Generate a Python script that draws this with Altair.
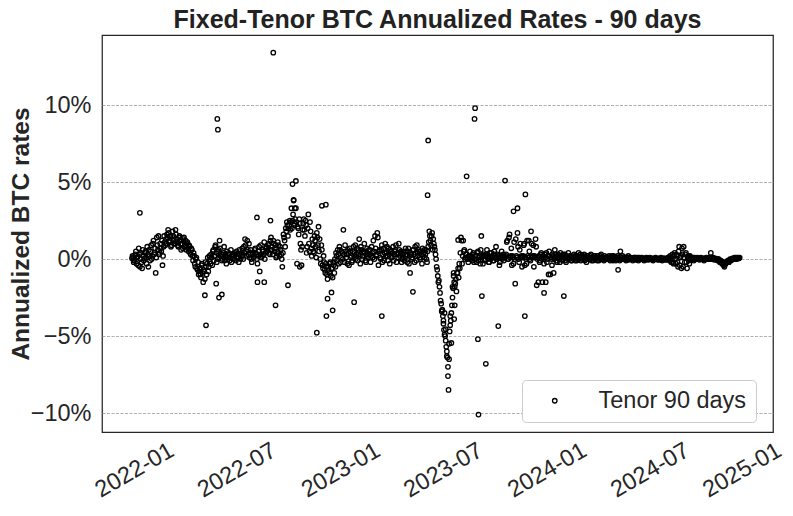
import altair as alt
import pandas as pd

SERIES = "Tenor 90 days"
START = "2021-12-28"  # first observation; each block below covers 60 days

# observations (annualized rate, %) on even days of each 60-day block
b0 = [0.05, 0.1, -0.1, 0.3, -0.3, 0.15, 0.7, -0.5, 0.4, -0.6, 0.2, 0.05, 0.5, -0.3, 0.3,
      0.6, -0.1, 0.9, 0.2, 1.2, 0.4, -0.9, 1.4, 0.6, 0.3, 1.0, 0.5, -0.4, 0.8, 1.1]
b1 = [1.3, 1.6, 1.9, 1.1, 1.5, 0.9, 1.8, 1.2, 1.0, 1.6, 1.3, 0.8, 1.5, 1.0, 1.2,
      0.7, 1.4, 0.9, 0.6, 1.1, 0.5, 0.8, 0.3, 0.6, -0.1, 0.2, -0.5, 0.1, -0.7, -1.0]
b2 = [-0.6, -1.2, -0.3, -1.5, -0.8, -0.2, -1.0, 0.1, -0.5, 0.0, 0.3, -0.4, 0.6, 0.2, 0.9,
      -0.2, 0.5, 0.1, 0.7, 0.3, 0.0, 0.4, -0.1, 0.2, 0.5, 0.0, 0.3, 0.1, -0.2, 0.2]
b3 = [0.2, 0.4, -0.1, 0.3, 0.1, 0.6, 0.0, 0.4, 0.2, 0.8, 1.3, 0.5, 1.2, 0.3, 0.1,
      0.6, -0.2, 0.4, 0.2, 0.7, 0.3, -0.3, 0.5, -0.8, 0.9, 0.2, 0.5, 1.1, 0.4, 0.8]
b4 = [0.6, 1.0, 0.3, 1.4, 0.8, 1.2, 0.5, 0.9, 0.2, 1.1, 0.4, 0.8, 0.3, -0.5, 1.6,
      1.2, 2.0, 2.4, 1.5, 2.2, 1.9, 3.3, 2.5, 3.8, 2.3, 3.3, -0.3, 2.0, 2.6, 1.0]
b5 = [-0.4, 1.9, 2.6, 1.5, 2.2, 0.8, 2.9, 0.5, 1.8, 0.2, 0.9, 0.4, 1.2, 0.1, 1.4,
      2.1, 1.3, -0.3, 0.6, -0.6, -0.2, -0.9, -0.5, -1.3, -0.7, -0.3, -1.1, -0.6, -0.2, -0.9]
b6 = [-0.5, 0.2, 0.6, -0.3, 0.6, 0.1, 0.4, 1.9, -0.2, 0.5, 0.3, 0.6, -0.4, 0.5, 0.2,
      -0.1, 0.8, 0.4, 0.0, 0.7, 0.3, 1.3, -0.3, 0.6, 0.2, 0.5, 0.4, -0.2, 0.7, 0.1]
b7 = [0.3, -0.2, 0.8, 0.1, 0.5, 1.5, 0.2, 1.7, -0.4, 0.6, 0.0, 0.9, 0.3, -0.1, 1.0,
      0.4, 0.2, 0.7, -0.3, 0.5, 0.1, 0.8, 0.3, 0.6, -0.2, 0.4, 1.0, 0.2, 0.5, 0.0]
b8 = [0.4, -0.1, 0.7, 0.2, 0.5, -0.3, -0.9, 0.3, 0.1, 0.6, -0.2, 0.4, 0.9, 0.2, 0.5,
      0.0, 0.3, 0.7, 0.4, 0.1, 0.6, -0.2, 0.8, 1.8, 1.2, 1.5, 0.6, 1.0, 0.6, 0.0]
b9 = [-0.7, -1.5, -1.8, -2.7, -3.4, -3.7, -4.6, -5.0, -5.7, -6.4, -8.5, -4.7, -4.0, -3.0, -1.9,
      -1.5, -1.6, -2.1, -0.9, -1.2, -0.6, 1.4, -0.3, 1.2, 0.6, 0.1, 0.3, 0.0, 0.2, 0.5]
b10 = [0.2, -0.1, 0.4, 0.0, 0.2, -0.2, 0.5, 0.1, -0.3, 1.5, 0.2, 0.3, -0.1, 0.2, 0.6,
       0.0, -0.2, 0.1, 0.4, 0.1, -0.1, 0.3, 0.8, 0.0, 0.2, -0.4, 0.1, 0.5, 0.1, -0.1]
b11 = [0.1, 0.3, 1.2, 0.0, 1.6, 0.2, -0.4, 0.1, 1.1, -1.6, 0.2, 1.7, 0.0, 0.6, 0.1,
       -0.5, 0.2, 1.0, 0.1, -0.3, 0.2, 1.2, 0.0, 1.8, 0.1, 0.9, 0.2, 1.3, -1.7, 0.1]
b12 = [0.2, -0.1, 0.4, -1.5, 0.1, 0.3, -1.5, -0.2, 0.2, 0.5, -1.0, 0.0, 0.3, -0.9, 0.6,
       0.1, -0.2, 0.3, 0.0, 0.4, 0.1, -0.1, 0.2, 0.3, -0.2, 0.1, 0.4, 0.0, 0.2, -0.1]
b13 = [0.1, 0.3, -0.1, 0.2, 0.0, 0.4, 0.1, -0.1, 0.2, 0.1, 0.3, 0.0, -0.2, 0.2, 0.1,
       0.0, 0.3, 0.1, -0.1, 0.2, 0.0, 0.1, 0.2, -0.1, 0.1, 0.3, 0.0, 0.1, 0.2, 0.0]
b14 = [0.1, 0.0, 0.2, -0.1, 0.1, 0.0, 0.2, 0.1, -0.1, 0.1, -0.7, 0.0, 0.5, 0.1, 0.2,
       0.0, 0.1, -0.1, 0.1, 0.2, 0.0, 0.1, 0.0, -0.1, 0.1, 0.0, 0.1, 0.0, -0.1, 0.1]
b15 = [0.0, 0.1, 0.0, -0.1, 0.05, 0.1, 0.0, -0.05, 0.1, 0.0, 0.05, -0.1, 0.0, 0.1, 0.0,
       -0.05, 0.05, 0.0, 0.1, -0.1, 0.0, 0.05, 0.0, -0.05, 0.1, 0.0, 0.2, -0.2, 0.3, -0.3]
b16 = [0.4, -0.3, 0.2, -0.5, 0.8, 0.1, -0.6, 0.3, 0.8, -0.2, 0.4, -0.6, 0.2, -0.3, 0.1,
       0.0, 0.1, -0.1, 0.05, 0.0, 0.1, 0.0, -0.05, 0.1, 0.0, 0.05, -0.1, 0.0, 0.1, 0.0]
b17 = [0.0, 0.1, 0.4, 0.0, 0.1, -0.05, 0.05, 0.0, -0.1, 0.0, -0.2, -0.1, -0.3, -0.2,
       -0.5, -0.3, -0.2, -0.1, -0.2, 0.0, -0.1, 0.05, 0.0, 0.1, 0.05, 0.0, 0.1, 0.05]

# observations on odd days of each 60-day block
c0 = [0.2, -0.2, 0.0, 0.5, 0.1, -0.4, 0.3, 0.0, -0.2, 0.6, -0.1, 0.4, 0.1, 0.8, -0.5,
      0.2, 0.5, 0.0, 1.0, 0.3, 0.7, 0.1, 0.9, 1.5, 0.4, 0.7, 1.2, 0.2, 1.5, 0.9]
c1 = [1.0, 1.4, 1.7, 1.2, 0.8, 1.3, 1.5, 1.0, 1.9, 1.1, 0.9, 1.4, 1.2, 0.6, 1.0,
      1.3, 0.8, 1.2, 1.0, 0.7, 0.9, 0.4, 0.7, 0.2, 0.4, -0.3, 0.0, -0.6, -0.2, -0.8]
c2 = [-1.0, -0.4, -0.9, -0.7, -1.3, -0.5, -0.3, -0.8, 0.2, -0.3, 0.1, 0.5, -0.1, 0.8, 0.4,
      0.0, 0.6, 1.2, 0.2, -0.1, 0.3, 0.8, 0.1, -0.3, 0.1, 0.4, -0.1, 0.6, 0.3, 0.0]
c3 = [0.0, 0.3, 0.5, 0.1, -0.2, 0.3, 0.2, 0.7, 0.0, 0.4, 0.9, 0.2, 0.6, 1.0, 0.4,
      0.0, 0.3, 0.1, 0.6, 0.4, 0.0, 0.2, 0.8, 0.3, 0.1, 0.6, 0.3, 0.0, 0.7, 0.5]
c4 = [0.9, 0.4, 1.2, 0.6, 0.3, 1.0, 0.7, 0.1, 0.5, 0.9, 0.2, 0.6, 0.0, 0.4, 1.4,
      0.8, 1.8, 2.2, 2.0, 2.5, 2.4, 2.0, 2.9, 2.2, 2.6, 2.4, 2.1, 1.6, 2.3, 0.6]
c5 = [0.8, 2.3, 1.9, 2.5, 0.4, 2.0, 1.0, 2.4, 0.7, 1.3, 0.5, 1.5, 0.8, 1.7, 0.9,
      0.5, 0.0, 0.9, -0.4, 0.2, -0.7, -0.3, -1.0, -0.5, -0.9, -0.2, -0.6, -1.2, -0.4, 0.0]
c6 = [0.4, -0.1, 0.3, 0.8, -0.2, 0.5, 0.0, 0.3, 0.9, 0.1, -0.3, 0.4, 0.7, 0.1, -0.2,
      0.5, 0.2, 0.9, 0.3, -0.1, 0.6, 0.2, 0.8, 0.0, 0.4, 1.0, -0.1, 0.3, 0.2, 0.6]
c7 = [0.6, 0.2, 0.4, 1.2, 0.0, 0.7, 0.3, 1.4, 0.5, 0.1, 0.6, -0.2, 0.7, 0.4, 0.2,
      0.8, -0.1, 0.3, 0.6, 0.2, 0.4, -0.1, 0.5, 0.9, 0.3, 0.1, 0.6, 0.4, -0.2, 0.3]
c8 = [0.1, 0.5, 0.3, -0.2, 0.7, 0.2, 0.4, 0.0, 0.6, 0.3, 0.8, -0.1, 0.4, 0.6, 0.1,
      0.5, -0.3, 0.2, 0.6, 0.3, 0.0, 0.5, 1.1, 1.5, 0.9, 1.7, 1.3, 0.8, 0.3, -0.5]
c9 = [-1.1, -1.4, -2.2, -2.9, -3.3, -4.2, -4.9, -5.3, -6.0, -7.0, -6.5, -4.3, -3.5, -2.5, -1.1,
      -1.8, -1.3, -0.9, -0.6, -0.3, 0.4, 1.2, 0.2, 0.5, 0.0, 0.3, 0.1, -0.2, 0.2, 0.0]
c10 = [0.1, 0.3, -0.2, 0.2, 0.0, 0.4, -0.1, 0.2, 0.6, 0.1, -0.3, 0.2, 0.0, 0.3, 0.1,
       -0.2, 0.4, 0.0, 0.2, -0.1, 0.5, 0.1, 0.0, 0.3, 0.1, -0.2, 0.2, 0.0, 0.3, 0.1]
c11 = [0.2, 1.1, 0.0, 1.4, 0.1, 0.7, 0.2, -0.3, 0.0, 1.3, 0.1, 0.8, -0.2, 1.0, 0.2,
       0.1, 0.9, -0.4, 0.0, 1.2, 0.1, 0.5, -0.1, 1.0, 0.2, -0.5, 0.1, 0.8, 0.0, -1.5]
c12 = [-0.2, 0.3, 0.0, 0.2, -0.3, 0.1, 0.4, 0.0, -1.0, 0.2, 0.1, -0.4, 0.2, 0.0, 0.3,
       -0.1, 0.2, 0.1, -0.2, 0.2, 0.0, 0.3, 0.1, -0.1, 0.2, 0.0, 0.1, 0.2, -0.1, 0.1]
c13 = [0.0, 0.2, 0.1, -0.1, 0.2, 0.0, 0.3, 0.1, 0.0, 0.2, -0.1, 0.1, 0.2, 0.0, 0.1,
       0.2, -0.1, 0.1, 0.0, 0.2, 0.1, -0.1, 0.1, 0.0, 0.2, 0.1, 0.0, -0.1, 0.1, 0.1]
c14 = [0.0, 0.1, 0.1, 0.0, 0.2, -0.1, 0.0, 0.1, 0.0, 0.2, 0.1, -0.1, 0.0, 0.1, 0.0,
       0.1, 0.0, 0.1, 0.0, -0.05, 0.1, 0.0, 0.05, 0.0, 0.1, -0.05, 0.0, 0.1, 0.0, 0.05]
c15 = [0.05, 0.0, 0.05, 0.0, -0.05, 0.0, 0.05, 0.0, 0.0, 0.05, -0.05, 0.0, 0.05, 0.0, 0.05,
       0.0, -0.05, 0.05, 0.0, 0.0, 0.05, -0.05, 0.0, 0.05, 0.0, -0.1, 0.1, 0.0, -0.2, 0.2]
c16 = [0.0, 0.3, -0.2, 0.5, -0.4, 0.2, 0.7, -0.5, 0.1, 0.3, -0.2, 0.1, -0.1, 0.2, 0.0,
       0.05, 0.0, 0.1, 0.0, 0.05, 0.0, 0.05, 0.0, 0.0, 0.05, 0.0, 0.05, 0.0, 0.0, 0.05]
c17 = [0.05, 0.0, 0.1, 0.0, 0.05, 0.0, 0.0, -0.05, 0.0, -0.1, -0.15, -0.2, -0.3, -0.4,
       -0.35, -0.25, -0.15, -0.2, -0.1, -0.05, 0.0, 0.0, 0.05, 0.0, 0.1, 0.05, 0.05, 0.1]

# additional individual observations (spikes and the mid-2023 dip)
extra_dates = [
    "2022-01-11", "2022-05-06", "2022-05-08", "2022-05-26", "2022-05-28", "2022-05-29", "2022-05-31", "2022-06-05",
    "2022-08-06", "2022-08-07", "2022-08-19", "2022-08-30", "2022-09-04", "2022-09-08", "2022-09-30",
    "2022-10-08", "2022-10-10", "2022-10-12", "2022-10-14", "2022-10-21",
    "2022-11-20", "2022-11-29", "2022-12-06", "2022-12-07", "2022-12-09", "2022-12-16", "2022-12-18",
    "2023-01-25", "2023-03-15", "2023-05-09", "2023-06-04", "2023-06-05",
    "2023-06-30", "2023-07-02", "2023-07-04", "2023-07-06", "2023-07-08", "2023-07-10", "2023-07-12",
    "2023-07-14", "2023-07-16", "2023-07-18", "2023-07-20", "2023-07-21", "2023-07-22", "2023-07-28",
    "2023-08-12", "2023-08-26", "2023-08-27", "2023-09-01", "2023-09-02", "2023-09-08", "2023-09-15", "2023-10-07",
    "2023-10-19", "2023-11-03", "2023-11-10", "2023-11-23", "2023-11-24", "2023-12-27", "2024-01-31",
]
extra_rates = [
    3.0, -2.35, -4.3, -1.6, 9.1, 8.4, -2.5, -2.3,
    2.7, -1.5, -1.5, 2.5, 13.4, -3.0, -1.7,
    4.87, 3.85, 3.3, 5.07, -0.5,
    -4.78, 3.46, 3.53, -3.7, -2.57, -2.17, -3.33,
    -2.8, -3.7, -2.13, 4.15, 7.7,
    -3.3, -4.0, -3.5, -4.55, -6.3, -7.6, -5.5,
    -3.7, -5.45, -1.8, -0.9, -3.9, -3.0, 1.24,
    5.37, 9.1, 9.8, -5.2, -10.1, -2.4, -6.8, -4.35,
    5.1, 3.1, 3.3, -3.7, 4.2, -2.2, -2.4,
]

y_ticks = [-10, -5, 0, 5, 10]
x_tick_months = [(2022, 1), (2022, 7), (2023, 1), (2023, 7), (2024, 1), (2024, 7), (2025, 1)]

even_blocks = [b0, b1, b2, b3, b4, b5, b6, b7, b8, b9, b10, b11, b12, b13, b14, b15, b16, b17]
odd_blocks = [c0, c1, c2, c3, c4, c5, c6, c7, c8, c9, c10, c11, c12, c13, c14, c15, c16, c17]

dates, rates = [], []
start = pd.Timestamp(START)
for k, (ev, od) in enumerate(zip(even_blocks, odd_blocks)):
    block_start = start + pd.Timedelta(days=60 * k)
    for i, v in enumerate(ev):
        dates.append(block_start + pd.Timedelta(days=2 * i))
        rates.append(v)
    for i, v in enumerate(od):
        dates.append(block_start + pd.Timedelta(days=2 * i + 1))
        rates.append(v)
dates += list(pd.to_datetime(extra_dates))
rates += extra_rates

df = pd.DataFrame({"date": dates, "rate": rates})
df["series"] = SERIES

FONT = "Liberation Sans"
TXT = "#262626"
TICK_FS = 23.5

chart = alt.Chart(df).mark_point(
    shape="circle", filled=False, size=20, strokeWidth=1.3, opacity=1
).encode(
    x=alt.X(
        "date:T",
        scale=alt.Scale(domain=[alt.DateTime(year=2021, month=11, date=5),
                                alt.DateTime(year=2025, month=2, date=4)]),
        axis=alt.Axis(
            values=[alt.DateTime(year=y, month=m, date=1) for y, m in x_tick_months],
            format="%Y-%m", labelAngle=-30, labelAlign="center", labelBaseline="middle",
            labelPadding=38, labelFlush=False, labelOverlap=False,
            labelOffset={"condition": {"test": "year(datum.value) >= 2025", "value": -12}, "value": 0},
            grid=False, ticks=False, domain=False, title=None,
            labelFontSize=TICK_FS, labelFont=FONT, labelColor=TXT,
        ),
    ),
    y=alt.Y(
        "rate:Q",
        scale=alt.Scale(domain=[-11.23, 14.55], nice=False, zero=False),
        axis=alt.Axis(
            values=y_ticks, labelExpr="format(datum.value, 'd') + '%'",
            grid=True, gridDash=[3, 1.5], gridColor="#9a9a9a", gridWidth=0.8,
            ticks=False, domain=False, labelPadding=11,
            labelFontSize=TICK_FS, labelFont=FONT, labelColor=TXT,
            title="Annualized BTC rates", titleFontSize=24.5, titleFontWeight="bold",
            titleFont=FONT, titleColor=TXT, titlePadding=-3,
        ),
    ),
    color=alt.Color(
        "series:N",
        scale=alt.Scale(range=["black"]),
        legend=alt.Legend(
            title=None, orient="none", legendX=420, legendY=345,
            padding=9, symbolOffset=12, labelOffset=32,
            labelFontSize=TICK_FS, labelFont=FONT, labelColor=TXT,
            strokeColor="#cccccc", fillColor="white", cornerRadius=4,
            symbolType="circle", symbolSize=20, symbolStrokeWidth=1.3,
        ),
    ),
).properties(
    width=671,
    height=397,
    autosize=alt.AutoSizeParams(type="none"),
    padding={"left": 94, "top": 27, "right": 12, "bottom": 76},
    title=alt.TitleParams(
        "Fixed-Tenor BTC Annualized Rates - 90 days",
        fontSize=25, fontWeight="bold", font=FONT, color="#222222",
        anchor="middle", offset=2,
    ),
).configure_view(
    stroke="#262626", strokeWidth=1.25
)

chart.save("out.html", embed_options={"renderer": "svg", "actions": False})
